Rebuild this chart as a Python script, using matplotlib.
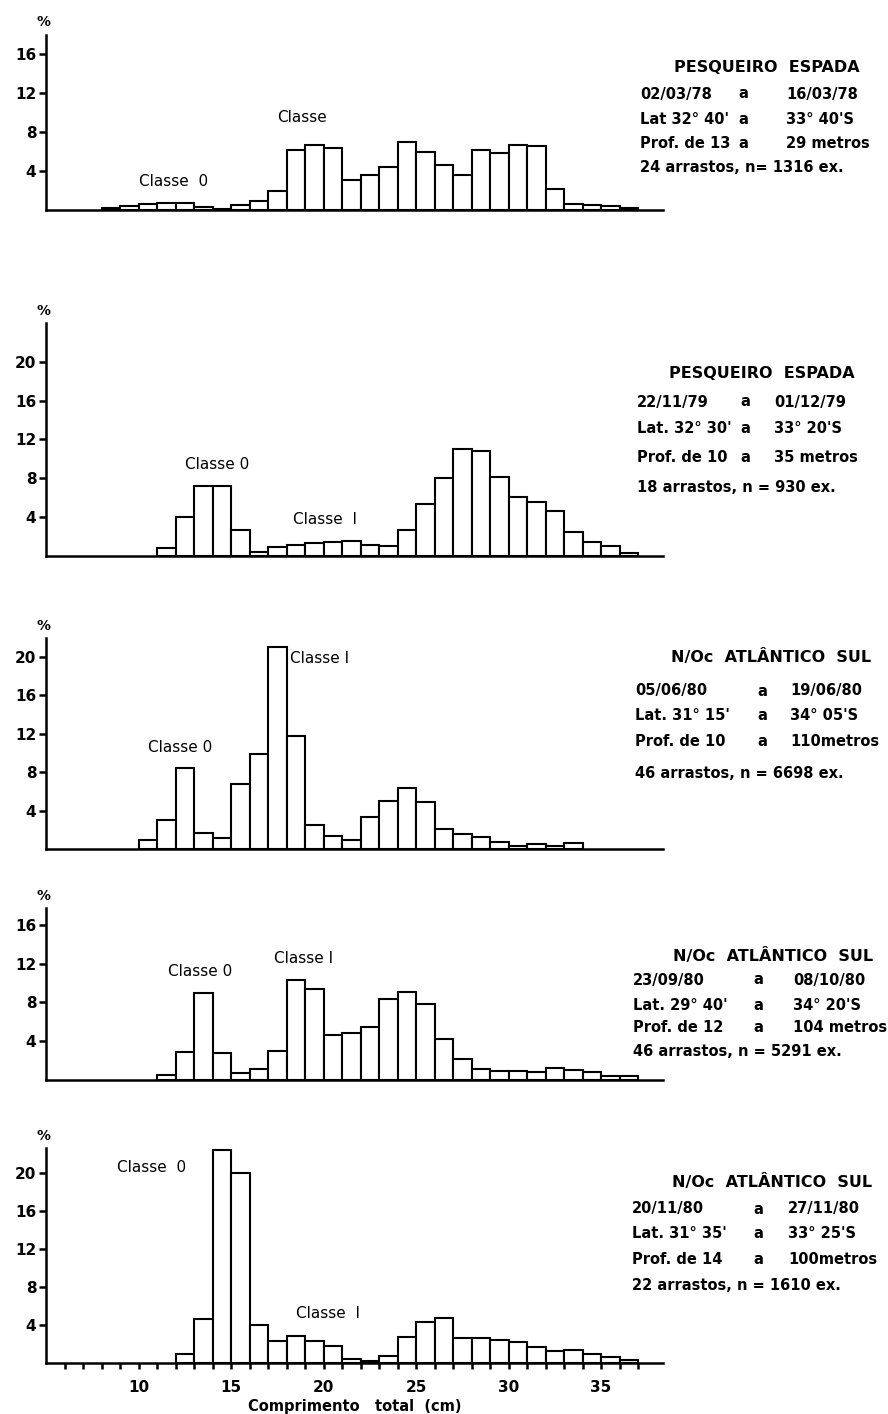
import matplotlib
matplotlib.use("Agg")
import matplotlib.pyplot as plt
import numpy as np

plt.rcParams['font.family'] = ['DejaVu Sans']

# length-frequency (%) by 1 cm class; first value belongs to the class starting at *_start
p1_start = 8
p1_pct = [0.25, 0.4, 0.6, 0.7, 0.75, 0.3, 0.15, 0.5, 0.95, 1.9, 6.2, 6.7, 6.4, 3.1, 3.6,
          4.4, 7.0, 5.9, 4.6, 3.6, 6.2, 5.8, 6.7, 6.6, 2.2, 0.6, 0.5, 0.4, 0.25]
p2_start = 11
p2_pct = [0.8, 4.0, 7.2, 7.2, 2.65, 0.4, 0.9, 1.1, 1.35, 1.45, 1.5, 1.15, 1.0, 2.7,
          5.4, 8.0, 11.0, 10.8, 8.1, 6.1, 5.6, 4.6, 2.5, 1.4, 1.0, 0.35]
p3_start = 10
p3_pct = [1.0, 3.0, 8.4, 1.65, 1.2, 6.8, 9.9, 21.0, 11.8, 2.5, 1.4, 1.0, 3.4, 5.0,
          6.4, 4.9, 2.1, 1.6, 1.3, 0.8, 0.35, 0.6, 0.35, 0.7]
p4_start = 11
p4_pct = [0.5, 2.9, 9.0, 2.75, 0.75, 1.1, 3.0, 10.3, 9.4, 4.6, 4.85, 5.5, 8.4, 9.1,
          7.8, 4.2, 2.2, 1.1, 0.95, 0.95, 0.85, 1.2, 1.0, 0.8, 0.45, 0.45]
p5_start = 12
p5_pct = [1.0, 4.7, 22.4, 20.0, 4.0, 2.3, 2.9, 2.3, 1.8, 0.4, 0.2, 0.8, 2.8, 4.3,
          4.8, 2.7, 2.7, 2.4, 2.2, 1.7, 1.3, 1.45, 1.0, 0.7, 0.3]

starts = [p1_start, p2_start, p3_start, p4_start, p5_start]
series = [p1_pct, p2_pct, p3_pct, p4_pct, p5_pct]

y_ticks = [[4, 8, 12, 16], [4, 8, 12, 16, 20], [4, 8, 12, 16, 20],
           [4, 8, 12, 16], [4, 8, 12, 16, 20]]
y_tops = [17.95, 23.95, 21.9, 17.7, 22.6]

class_labels = [
    [("Classe  0", 10.0, 2.9), ("Classe", 17.5, 9.5)],
    [("Classe 0", 12.5, 9.4), ("Classe  I", 18.35, 3.8)],
    [("Classe 0", 10.5, 10.6), ("Classe I", 18.2, 19.8)],
    [("Classe 0", 11.6, 11.2), ("Classe I", 17.3, 12.5)],
    [("Classe  0", 8.85, 20.6), ("Classe  I", 18.5, 5.2)],
]

titles = ["PESQUEIRO  ESPADA", "PESQUEIRO  ESPADA", "N/Oc  ATLÂNTICO  SUL",
          "N/Oc  ATLÂNTICO  SUL", "N/Oc  ATLÂNTICO  SUL"]
info_rows = [
    [("02/03/78", "a", "16/03/78"), ("Lat 32° 40'", "a", "33° 40'S"),
     ("Prof. de 13", "a", "29 metros")],
    [("22/11/79", "a", "01/12/79"), ("Lat. 32° 30'", "a", "33° 20'S"),
     ("Prof. de 10", "a", "35 metros")],
    [("05/06/80", "a", "19/06/80"), ("Lat. 31° 15'", "a", "34° 05'S"),
     ("Prof. de 10", "a", "110metros")],
    [("23/09/80", "a", "08/10/80"), ("Lat. 29° 40'", "a", "34° 20'S"),
     ("Prof. de 12", "a", "104 metros")],
    [("20/11/80", "a", "27/11/80"), ("Lat. 31° 35'", "a", "33° 25'S"),
     ("Prof. de 14", "a", "100metros")],
]
footers = ["24 arrastos, n= 1316 ex.", "18 arrastos, n = 930 ex.",
           "46 arrastos, n = 6698 ex.", "46 arrastos, n = 5291 ex.",
           "22 arrastos, n = 1610 ex."]

W, H = 888, 1414
fig = plt.figure(figsize=(W / 100, H / 100), dpi=100)

# axes placement in pixels: baseline y and top y of each panel
baselines = [210, 556, 849.3, 1080, 1363.3]
axis_tops = [35, 323.3, 638.3, 908.3, 1148.3]
left_px, right_px = 46, 663

# text block layout in pixels (y = middle of the capitals)
title_x = [767, 762, 771, 773, 772]
text_left = [640, 637, 635, 633, 632]
a_x = [743, 745, 762, 758, 758]
right_col = [786, 774, 790, 793, 788]
text_y = [[67, 93, 119, 143, 167],
          [372, 401, 428, 456, 487],
          [657, 690, 715, 741, 772],
          [956, 979, 1004, 1027, 1051],
          [1181, 1208, 1233, 1258, 1285]]


def put(x, y, s, **kw):
    # place on the text baseline so lowercase and digits line up
    fig.text(x / W, 1 - (y + 5.5) / H, s, va='baseline', fontweight='bold', **kw)


lw = 1.8
fs = 10.5
for i in range(5):
    ax = fig.add_axes([left_px / W, 1 - baselines[i] / H,
                       (right_px - left_px) / W,
                       (baselines[i] - axis_tops[i]) / H])
    vals = np.array(series[i])
    edges = starts[i] + np.arange(len(vals))
    ax.bar(edges, vals, width=1.0, align='edge', color='white',
           edgecolor='black', linewidth=1.5)
    ax.set_xlim(5, 38.35)
    ax.set_ylim(0, y_tops[i])
    for s in ['top', 'right']:
        ax.spines[s].set_visible(False)
    ax.spines['left'].set_linewidth(lw)
    ax.spines['bottom'].set_linewidth(lw)
    ax.set_yticks(y_ticks[i])
    ax.tick_params(axis='y', length=5, width=lw, pad=2, labelsize=11)
    for t in ax.get_yticklabels():
        t.set_fontweight('bold')
    ax.annotate('%', xy=(0, 1), xycoords='axes fraction', xytext=(-2, 9),
                textcoords='offset points', ha='center', va='center',
                fontsize=10, fontweight='bold')
    for txt, x, y in class_labels[i]:
        ax.text(x, y, txt, fontsize=11, ha='left', va='center')

    if i == 4:
        ax.set_xticks([10, 15, 20, 25, 30, 35])
        ax.set_xticks(np.arange(6, 38), minor=True)
        ax.tick_params(axis='x', which='both', length=4, width=lw, pad=8,
                       labelsize=11)
        for t in ax.get_xticklabels():
            t.set_fontweight('bold')
        ax.set_xlabel('Comprimento   total  (cm)', fontsize=fs,
                      fontweight='bold', labelpad=3)
    else:
        ax.set_xticks([])

    ys = text_y[i]
    put(title_x[i], ys[0], titles[i], ha='center', fontsize=11.5)
    for (l, m, r), y in zip(info_rows[i], ys[1:4]):
        put(text_left[i], y, l, ha='left', fontsize=fs)
        put(a_x[i], y, m, ha='center', fontsize=fs)
        put(right_col[i], y, r, ha='left', fontsize=fs)
    put(text_left[i], ys[4], footers[i], ha='left', fontsize=fs)

fig.savefig('out.png', dpi=100, facecolor='white')
